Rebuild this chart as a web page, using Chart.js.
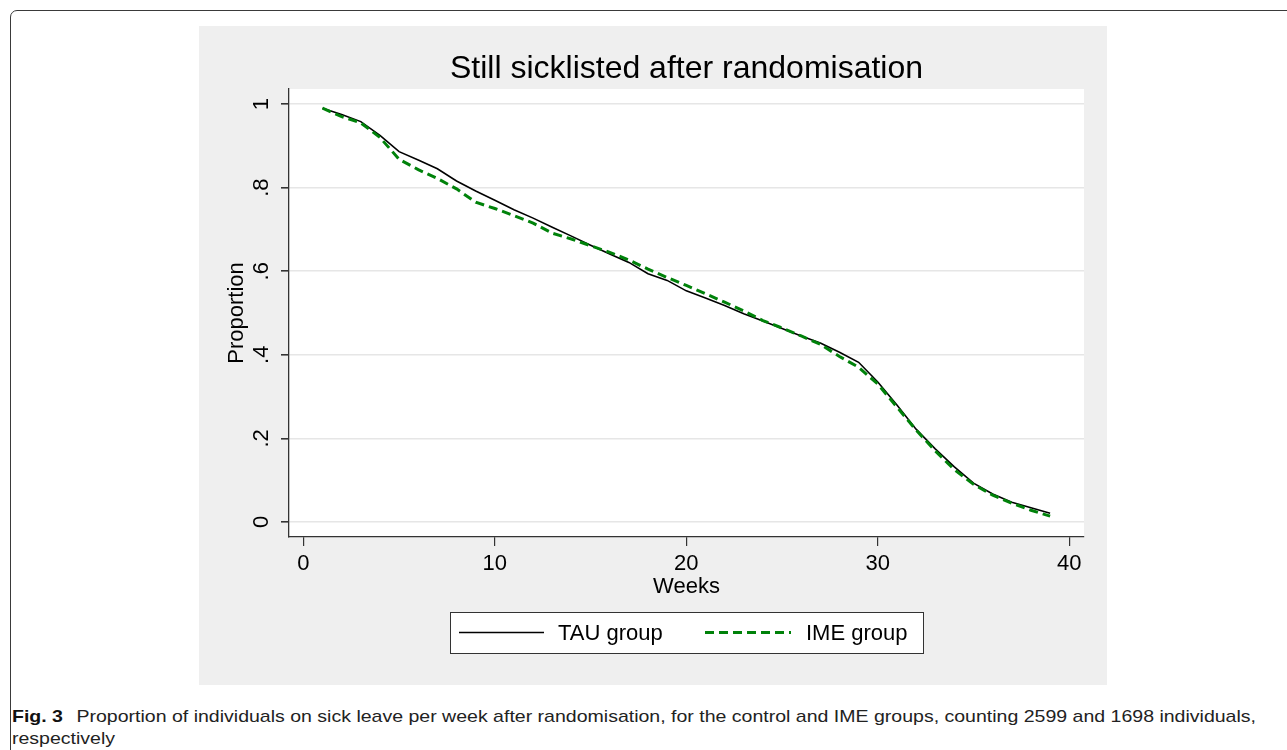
<!DOCTYPE html>
<html>
<head>
<meta charset="utf-8">
<title>Still sicklisted after randomisation</title>
<script src="https://cdn.jsdelivr.net/npm/chart.js@4.4.1/dist/chart.umd.min.js"></script>
<style>
  html, body { margin: 0; padding: 0; background: #fff; overflow: hidden; }
  body { width: 1287px; height: 750px; position: relative; font-family: "Liberation Sans", Arial, sans-serif; }
  #frame { position: absolute; left: 10px; top: 10px; width: 1300px; height: 760px; border: 1px solid #3a3a3a; border-radius: 7px; }
  #panel { position: absolute; left: 199px; top: 26px; width: 908px; height: 659px; background: #efefef; }
  #sick { position: absolute; left: 0; top: 0; }
  .cap { position: absolute; left: 12px; white-space: nowrap; font-family: "Liberation Sans Narrow", "Liberation Sans", sans-serif;
         font-size: 17px; line-height: 20px; color: #222; transform-origin: 0 50%; }
  .cap b { color: #111; margin-right: 7px; }
</style>
</head>
<body>
<div id="frame"></div>
<div id="panel"><canvas id="sick" width="908" height="659"></canvas></div>
<div class="cap" id="cap1" style="top:707px"><b>Fig. 3</b> Proportion of individuals on sick leave per week after randomisation, for the control and IME groups, counting 2599 and 1698 individuals,</div>
<div class="cap" id="cap2" style="top:729px">respectively</div>
<script>
// values, week by week
const weeks = [1, 2, 3, 4, 5, 6, 7, 8, 9, 10, 11, 12, 13, 14, 15, 16, 17, 18, 19, 20,
  21, 22, 23, 24, 25, 26, 27, 28, 29, 30, 31, 32, 33, 34, 35, 36, 37, 38, 39];
const tauGroup = [0.990, 0.975, 0.958, 0.925, 0.886, 0.866, 0.845, 0.816, 0.792, 0.770,
  0.747, 0.727, 0.705, 0.684, 0.662, 0.641, 0.621, 0.594, 0.578, 0.553,
  0.536, 0.518, 0.498, 0.481, 0.463, 0.445, 0.428, 0.406, 0.382, 0.335,
  0.280, 0.222, 0.175, 0.132, 0.093, 0.067, 0.047, 0.034, 0.021];
const imeGroup = [0.990, 0.970, 0.955, 0.920, 0.868, 0.843, 0.822, 0.797, 0.765, 0.750,
  0.733, 0.715, 0.691, 0.677, 0.661, 0.645, 0.627, 0.605, 0.585, 0.566,
  0.546, 0.526, 0.505, 0.482, 0.464, 0.445, 0.425, 0.396, 0.370, 0.330,
  0.275, 0.220, 0.170, 0.125, 0.090, 0.064, 0.045, 0.028, 0.014];
const seriesNames = ["TAU group", "IME group"];
const xTicks = [0, 10, 20, 30, 40];
const yTicks = [0, 0.2, 0.4, 0.6, 0.8, 1];
const yTickLabels = ["0", ".2", ".4", ".6", ".8", "1"];

const FONT = "'Liberation Sans', Arial, sans-serif";
const INK = "#333";

const stataLook = {
  id: "stataLook",
  beforeDraw(chart) {
    const { ctx, chartArea: a } = chart;
    ctx.save();
    ctx.fillStyle = "#efefef";
    ctx.fillRect(0, 0, chart.width, chart.height);
    ctx.fillStyle = "#fff";
    ctx.fillRect(a.left, a.top, a.right - a.left, a.bottom - a.top);
    ctx.restore();
  },
  afterDraw(chart) {
    const { ctx, chartArea: a, scales } = chart;
    const cx = (a.left + a.right) / 2;
    ctx.save();
    ctx.fillStyle = "#000";
    ctx.textAlign = "center";
    ctx.textBaseline = "middle";
    ctx.font = "32px " + FONT;
    ctx.fillText("Still sicklisted after randomisation", cx, 43);
    ctx.font = "22px " + FONT;
    ctx.fillText("Weeks", cx, 561);

    // rotated y tick labels, stata style
    yTicks.forEach((v, i) => {
      ctx.save();
      ctx.translate(a.left - 27, scales.y.getPixelForValue(v));
      ctx.rotate(-Math.PI / 2);
      ctx.fillText(yTickLabels[i], 0, 0);
      ctx.restore();
    });
    ctx.save();
    ctx.translate(38, (a.top + a.bottom) / 2);
    ctx.rotate(-Math.PI / 2);
    ctx.fillText("Proportion", 0, 0);
    ctx.restore();

    // legend box
    const bx = 251, by = 586, bw = 473, bh = 41;
    ctx.fillStyle = "#fff";
    ctx.fillRect(bx, by, bw, bh);
    ctx.strokeStyle = INK;
    ctx.lineWidth = 1;
    ctx.strokeRect(bx + 0.5, by + 0.5, bw, bh);
    const ly = by + bh / 2;
    const slots = [{ x0: 260, x1: 345, tx: 359 }, { x0: 506, x1: 592, tx: 607 }];
    chart.data.datasets.forEach((ds, i) => {
      const s = slots[i];
      ctx.beginPath();
      ctx.strokeStyle = ds.borderColor;
      ctx.lineWidth = ds.borderWidth;
      ctx.setLineDash(ds.borderDash || []);
      ctx.moveTo(s.x0, ly);
      ctx.lineTo(s.x1, ly);
      ctx.stroke();
      ctx.setLineDash([]);
      ctx.fillStyle = "#000";
      ctx.textAlign = "left";
      ctx.fillText(ds.label, s.tx, ly + 1);
    });
    ctx.restore();
  }
};

new Chart(document.getElementById("sick"), {
  type: "line",
  data: {
    datasets: [{
      label: seriesNames[0],
      data: weeks.map((w, i) => ({ x: w, y: tauGroup[i] })),
      borderColor: "#000",
      borderWidth: 1.6,
      pointRadius: 0,
      tension: 0,
      order: 1
    }, {
      label: seriesNames[1],
      data: weeks.map((w, i) => ({ x: w, y: imeGroup[i] })),
      borderColor: "#00820a",
      borderWidth: 3,
      borderDash: [9, 5],
      pointRadius: 0,
      tension: 0,
      order: 0
    }]
  },
  options: {
    responsive: false,
    devicePixelRatio: 1,
    animation: false,
    layout: { padding: { top: 63, right: 23, left: 0, bottom: 0 } },
    plugins: { legend: { display: false }, title: { display: false }, tooltip: { enabled: false } },
    scales: {
      x: {
        type: "linear",
        min: -0.75,
        max: 40.77,
        afterBuildTicks: s => { s.ticks = xTicks.map(v => ({ value: v })); },
        afterFit: s => { s.height = 148; },
        grid: { drawOnChartArea: false, tickLength: 9, tickColor: INK, lineWidth: 1.2 },
        border: { display: true, color: INK, width: 1.3 },
        ticks: { color: "#000", font: { family: FONT, size: 22 }, padding: 5, maxRotation: 0 }
      },
      y: {
        type: "linear",
        min: -0.036,
        max: 1.036,
        afterBuildTicks: s => { s.ticks = yTicks.map(v => ({ value: v })); },
        afterFit: s => { s.width = 90; },
        grid: { color: "#e6e6e6", lineWidth: 1.6, tickLength: 8, tickColor: INK },
        border: { display: true, color: INK, width: 1.3 },
        ticks: { display: false }
      }
    }
  },
  plugins: [stataLook]
});

// stretch caption to the width it has in the figure
const c1 = document.getElementById("cap1"), c2 = document.getElementById("cap2");
const k = 1244 / c1.getBoundingClientRect().width;
c1.style.transform = c2.style.transform = "scaleX(" + k + ")";
</script>
</body>
</html>
